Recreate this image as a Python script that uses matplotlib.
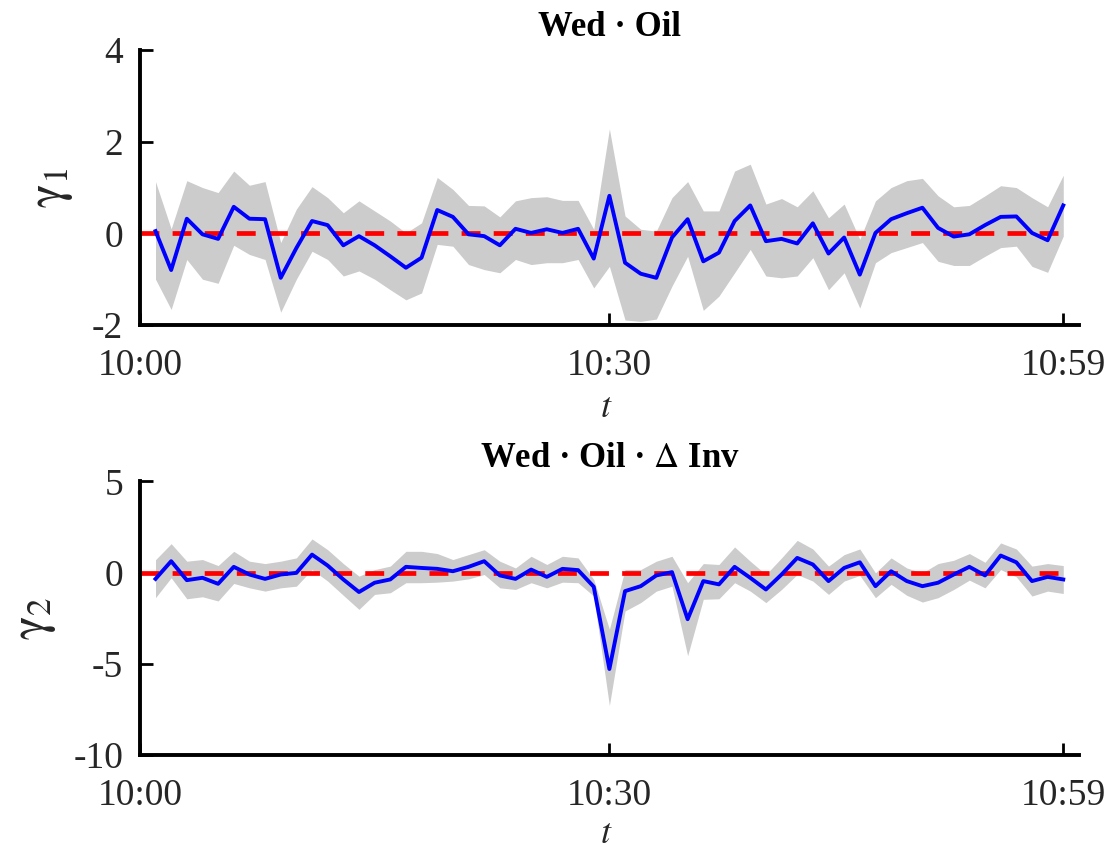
import numpy as np
import matplotlib.pyplot as plt

plt.rcParams['font.family'] = ['Liberation Serif', 'DejaVu Serif']
plt.rcParams['mathtext.fontset'] = 'stix'
plt.rcParams['axes.unicode_minus'] = False

# minutes after 10:00
minutes = list(range(1, 60))

# Wed . Oil  (gamma_1)
g1 = [0.05, -0.80, 0.32, -0.02, -0.12, 0.58, 0.32, 0.31, -0.97, -0.32,
      0.27, 0.18, -0.26, -0.06, -0.26, -0.50, -0.75, -0.53, 0.51, 0.36,
      -0.02, -0.06, -0.26, 0.10, 0.01, 0.09, 0.01, 0.10, -0.55, 0.82,
      -0.64, -0.88, -0.97, -0.09, 0.31, -0.61, -0.42, 0.27, 0.61, -0.17,
      -0.12, -0.22, 0.22, -0.44, -0.09, -0.90, 0.01, 0.31, 0.44, 0.56,
      0.12, -0.07, -0.02, 0.18, 0.36, 0.37, 0.01, -0.15, 0.61]
g1_hi = [1.13, 0.10, 1.15, 1.00, 0.89, 1.36, 1.05, 1.13, -0.20, 0.53,
         1.02, 0.78, 0.45, 0.71, 0.49, 0.27, 0.01, 0.23, 1.22, 0.96,
         0.61, 0.60, 0.36, 0.71, 0.78, 0.80, 0.72, 0.72, 0.09, 2.28,
         0.38, 0.09, 0.05, 0.78, 1.13, 0.49, 0.49, 1.36, 1.51, 0.64,
         0.76, 0.58, 0.93, 0.34, 0.64, -0.13, 0.71, 1.00, 1.15, 1.20,
         0.82, 0.58, 0.61, 0.82, 1.04, 1.00, 0.78, 0.58, 1.27]
g1_lo = [-1.00, -1.66, -0.57, -1.00, -1.09, -0.26, -0.46, -0.57, -1.72, -1.00,
         -0.39, -0.57, -0.93, -0.82, -1.00, -1.23, -1.45, -1.30, -0.24, -0.28,
         -0.68, -0.79, -0.86, -0.57, -0.68, -0.64, -0.64, -0.57, -1.19, -0.72,
         -1.89, -1.92, -1.87, -1.15, -0.50, -1.68, -1.37, -0.86, -0.35, -0.93,
         -0.97, -0.93, -0.53, -1.23, -0.86, -1.63, -0.64, -0.42, -0.31, -0.20,
         -0.61, -0.70, -0.70, -0.50, -0.31, -0.28, -0.72, -0.85, -0.06]

# Wed . Oil . Delta Inv  (gamma_2)
g2 = [-0.35, 0.62, -0.42, -0.29, -0.62, 0.31, -0.11, -0.35, -0.11, -0.02,
      0.98, 0.38, -0.38, -1.07, -0.56, -0.38, 0.31, 0.25, 0.20, 0.07,
      0.31, 0.62, -0.16, -0.35, 0.16, -0.24, 0.20, 0.13, -0.78, -5.29,
      -1.02, -0.75, -0.16, 0.02, -2.56, -0.47, -0.65, 0.31, -0.29, -0.93,
      -0.11, 0.80, 0.44, -0.47, 0.25, 0.56, -0.75, 0.07, -0.47, -0.75,
      -0.56, -0.11, 0.31, -0.16, 0.93, 0.56, -0.47, -0.24, -0.38]
g2_hi = [0.70, 1.58, 0.62, 0.71, 0.38, 1.16, 0.62, 0.49, 0.62, 0.80,
         1.84, 1.25, 0.49, -0.20, 0.16, 0.35, 1.16, 1.16, 1.04, 0.71,
         0.98, 1.25, 0.62, 0.25, 0.89, 0.44, 0.89, 0.80, -0.38, -3.11,
         0.16, 0.16, 0.62, 0.89, -0.56, 0.49, 0.44, 1.40, 0.62, -0.11,
         0.80, 1.76, 1.29, 0.35, 0.98, 1.29, -0.02, 0.80, 0.25, -0.02,
         0.49, 0.67, 1.04, 0.56, 1.62, 1.29, 0.35, 0.49, 0.38]
g2_lo = [-1.38, -0.29, -1.44, -1.33, -1.56, -0.60, -0.84, -1.02, -0.84, -0.75,
         0.16, -0.47, -1.25, -2.02, -1.20, -1.11, -0.56, -0.56, -0.53, -0.47,
         -0.35, -0.11, -0.84, -0.93, -0.56, -0.84, -0.53, -0.56, -1.29, -7.29,
         -2.11, -1.65, -1.02, -0.75, -4.56, -1.47, -1.44, -0.56, -1.02, -1.65,
         -0.93, -0.11, -0.47, -1.20, -0.47, -0.16, -1.38, -0.65, -1.25, -1.62,
         -1.38, -0.93, -0.42, -0.84, 0.16, -0.24, -1.29, -1.02, -1.15]

xticks = [0, 30, 59]
xticklabels = ['10:00', '10:30', '10:59']

panels = [
    dict(mean=g1, hi=g1_hi, lo=g1_lo, title='Wed · Oil', ylab=r'$\mathrm{\gamma}_1$',
         ylim=(-2, 4), yticks=[-2, 0, 2, 4], rect=[0.126, 0.6176, 0.846, 0.3235],
         labx=-0.094, tlab=-0.245),
    dict(mean=g2, hi=g2_hi, lo=g2_lo, title=r'Wed · Oil · $\Delta$ Inv', ylab=r'$\mathrm{\gamma}_2$',
         ylim=(-10, 5), yticks=[-10, -5, 0, 5], rect=[0.126, 0.1118, 0.846, 0.322],
         labx=-0.112, tlab=-0.23),
]

fig = plt.figure(figsize=(11.1, 8.5), dpi=100)

for p in panels:
    ax = fig.add_axes(p['rect'])
    ax.fill_between(minutes, p['lo'], p['hi'], color='#cccccc', linewidth=0)
    ax.plot([0, 59], [0, 0], color='red', linewidth=3.4, dashes=(4, 2.8))
    ax.plot(minutes, p['mean'], color='blue', linewidth=2.8)

    ax.set_xlim(0, 60)
    ax.set_ylim(*p['ylim'])
    ax.set_xticks(xticks)
    ax.set_xticklabels(xticklabels)
    ax.set_yticks(p['yticks'])
    ax.spines['top'].set_visible(False)
    ax.spines['right'].set_visible(False)
    for s in ['left', 'bottom']:
        ax.spines[s].set_linewidth(2.8)
        ax.spines[s].set_color('black')
    ax.tick_params(direction='in', length=9, width=2, labelsize=27,
                   labelcolor='#262626')
    ax.tick_params(axis='y', pad=12)
    ax.tick_params(axis='x', pad=17)
    ax.set_title(p['title'], fontsize=25, fontweight='bold', pad=10)
    ax.set_ylabel(p['ylab'], fontsize=36, color='#262626', va='center')
    ax.yaxis.set_label_coords(p['labx'], 0.5)
    ax.set_xlabel('$t$', fontsize=26, color='#262626')
    ax.xaxis.set_label_coords(0.497, p['tlab'])

fig.savefig('out.png', dpi=100)
